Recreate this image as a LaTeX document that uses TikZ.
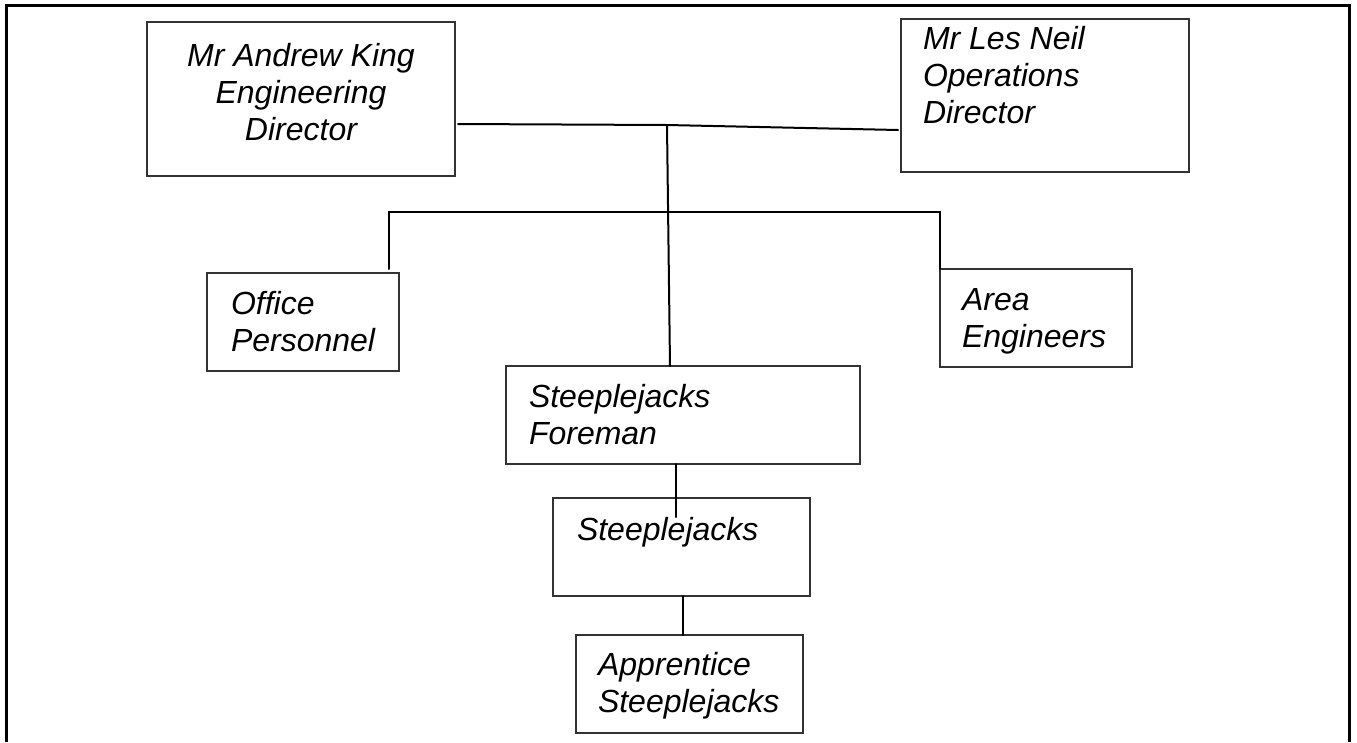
\documentclass[tikz,border=0pt]{standalone}
\usepackage{fontspec}
\setmainfont{Liberation Sans}
\usetikzlibrary{calc}
\tikzset{
  box/.style={draw=black!80, line width=1.3pt, inner sep=0pt, outer sep=0pt},
  lbl/.style={font=\fontsize{32}{37}\selectfont\itshape, inner sep=0pt, outer sep=0pt},
  conn/.style={line width=2pt, line cap=round},
  frame/.style={line width=3pt}
}
\begin{document}
\begin{tikzpicture}[x=1pt,y=-1pt]
\useasboundingbox (0,0) rectangle (1357,742);
% outer frame
\draw[frame] (6,742) -- (6,5) -- (1349,5) -- (1349,742);
% boxes
\node[box, minimum width=308pt, minimum height=154pt] (ak) at (301,99) {};
\node[box, minimum width=288pt, minimum height=153pt] (ln) at (1045,95.5) {};
\node[box, minimum width=192pt, minimum height=98pt] (op) at (303,322) {};
\node[box, minimum width=192pt, minimum height=98pt] (ae) at (1036,318) {};
\node[box, minimum width=354pt, minimum height=98pt] (fm) at (683,415) {};
\node[box, minimum width=257pt, minimum height=98pt] (sj) at (681.5,547) {};
\node[box, minimum width=227pt, minimum height=98pt] (ap) at (689.5,684) {};
% texts (base anchor = baseline of the last line)
\node[lbl, align=center, anchor=base] (akt) at (301,140) {Mr Andrew King\\Engineering\\Director};
\node[lbl, align=left, anchor=base west] (lnt) at (923,123) {Mr Les Neil\\Operations\\Director};
\node[lbl, align=left, anchor=base west] (opt) at (231,351) {Office\\Personnel};
\node[lbl, align=left, anchor=base west] (aet) at (962,347) {Area\\Engineers};
\node[lbl, align=left, anchor=base west] (fmt) at (529,444) {Steeplejacks\\Foreman};
\node[lbl, align=left, anchor=base west] (sjt) at (577,540) {Steeplejacks};
\node[lbl, align=left, anchor=base west] (apt) at (598,712) {Apprentice\\Steeplejacks};
% connectors
\coordinate (j) at (667,125);
\coordinate (busL) at (389,212);
\draw[conn] ([shift={(3,25)}]ak.east) -- (j) -- ([shift={(-3,34.5)}]ln.west);
\draw[conn] (j) -- ([xshift=-13]fm.north);
\draw[conn] ([shift={(-10,-4)}]op.north east) -- (busL) -| (ae.north west);
\draw[conn] ([xshift=-7]fm.south) -- ([shift={(-5.5,19)}]sj.north);
\draw[conn] ([xshift=1.5]sj.south) -- ([xshift=-6.5]ap.north);
\end{tikzpicture}
\end{document}
